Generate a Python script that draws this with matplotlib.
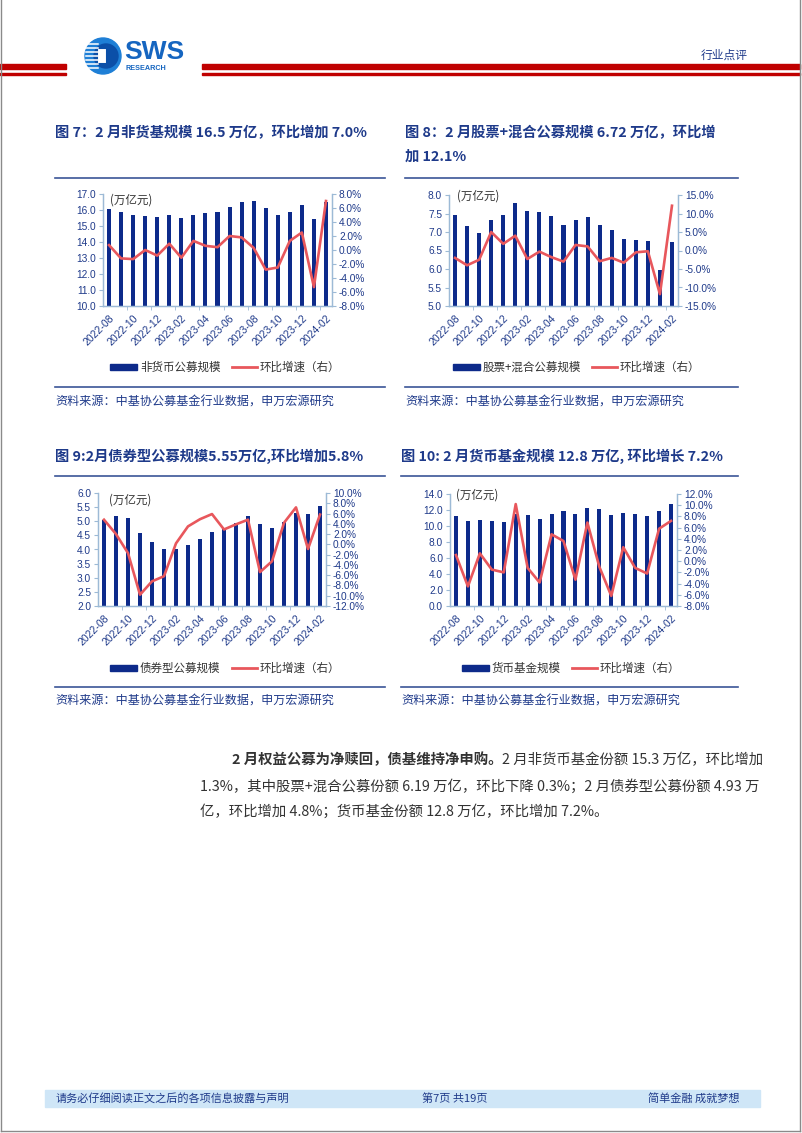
import matplotlib.pyplot as plt
from matplotlib.patches import Rectangle, Circle
from matplotlib.lines import Line2D
import numpy as np

W, H = 802, 1133
NAVY = '#0D2A8A'
RED = '#E8575C'
TXT = '#1F3A8A'
AXC = '#9DBAD6'

plt.rcParams['font.family'] = ['Liberation Sans', 'Noto Sans CJK SC']
CJK = ['Noto Sans CJK SC', 'DejaVu Sans']

months = ['2022-08', '2022-09', '2022-10', '2022-11', '2022-12', '2023-01', '2023-02',
          '2023-03', '2023-04', '2023-05', '2023-06', '2023-07', '2023-08', '2023-09',
          '2023-10', '2023-11', '2023-12', '2024-01', '2024-02']

# 非货币公募规模 (万亿元) and 环比 (%)
nonmoney_size = [16.05, 15.9, 15.7, 15.65, 15.55, 15.7, 15.5, 15.7, 15.8, 15.85,
                 16.2, 16.5, 16.55, 16.1, 15.7, 15.9, 16.3, 15.43, 16.5]
nonmoney_mom = [0.7, -1.2, -1.3, 0.0, -0.8, 0.9, -1.1, 1.3, 0.6, 0.4,
                2.0, 1.8, 0.3, -2.8, -2.5, 1.3, 2.5, -5.3, 7.0]

# 股票+混合公募规模
equity_size = [7.45, 7.15, 6.97, 7.33, 7.47, 7.78, 7.58, 7.55, 7.42, 7.2,
               7.32, 7.4, 7.18, 7.05, 6.8, 6.78, 6.77, 5.98, 6.72]
equity_mom = [-2.0, -4.0, -2.5, 5.0, 1.8, 4.0, -2.3, -0.3, -1.8, -3.0,
              1.5, 1.1, -2.9, -2.0, -3.3, -0.5, -0.2, -11.8, 12.1]

# 债券型公募规模
bond_size = [5.05, 5.18, 5.1, 4.6, 4.28, 4.0, 4.02, 4.16, 4.37, 4.62,
             4.75, 4.95, 5.18, 4.9, 4.75, 4.98, 5.3, 5.25, 5.55]
bond_mom = [4.8, 2.0, -1.7, -9.8, -7.2, -6.2, 0.2, 3.5, 4.9, 5.9,
            2.9, 3.9, 4.8, -5.4, -3.3, 4.2, 7.2, -0.9, 5.8]

# 货币基金规模
money_size = [11.2, 10.65, 10.8, 10.65, 10.45, 11.5, 11.4, 10.9, 11.45, 11.85,
              11.45, 12.25, 12.1, 11.35, 11.65, 11.5, 11.25, 11.9, 12.8]
money_mom = [1.1, -4.5, 1.4, -1.5, -2.0, 10.2, -1.2, -3.8, 4.8, 3.6,
             -3.3, 6.9, -1.0, -6.2, 2.5, -1.2, -2.2, 5.8, 7.2]

fig = plt.figure(figsize=(W / 100, H / 100), dpi=100)
pg = fig.add_axes([0, 0, 1, 1])
pg.set_xlim(0, W)
pg.set_ylim(H, 0)
pg.axis('off')


def chart(rect, sizes, mom, lylim, lstep, lfmt, rylim, rstep):
    x0, y0, x1, y1 = rect
    ax = fig.add_axes([x0 / W, 1 - y1 / H, (x1 - x0) / W, (y1 - y0) / H])
    ax.patch.set_alpha(0)
    idx = np.arange(len(months))
    ax.bar(idx, sizes, width=0.34, color=NAVY, zorder=2)
    ax.set_xlim(-0.5, len(months) - 0.5)
    ax.set_ylim(*lylim)
    lt = np.arange(lylim[0], lylim[1] + lstep / 2, lstep)
    ax.set_yticks(lt)
    ax.set_yticklabels([lfmt.format(v) for v in lt])
    ax.set_xticks(idx[::2])
    ax.set_xticklabels(months[::2], rotation=45, ha='right', rotation_mode='anchor')
    ax.set_xticks(np.arange(1.5, len(months) - 1, 2), minor=True)
    ax.tick_params(axis='x', which='major', length=0, pad=5, labelsize=7.6, labelcolor=TXT)
    ax.tick_params(axis='x', which='minor', length=3, color=AXC)
    ax.tick_params(axis='y', length=3, color=AXC, labelsize=7.3, labelcolor=TXT, pad=2)
    ax2 = ax.twinx()
    ax2.plot(idx, mom, color=RED, lw=1.9, zorder=3)
    ax2.set_ylim(*rylim)
    rt = np.arange(rylim[0], rylim[1] + rstep / 2, rstep)
    ax2.set_yticks(rt)
    ax2.set_yticklabels(['{:.1f}%'.format(v) for v in rt])
    ax2.tick_params(axis='y', length=3, color=AXC, labelsize=7.3, labelcolor=TXT, pad=2)
    for a in (ax, ax2):
        a.spines['top'].set_visible(False)
        for s in ('left', 'right', 'bottom'):
            a.spines[s].set_color(AXC)
            a.spines[s].set_linewidth(0.9)
    return ax


def legend(xb, xl, y, label):
    pg.add_patch(Rectangle((xb, y - 3), 27, 6, color=NAVY))
    pg.text(xb + 30, y, label, fontsize=8.3, color='#333333', va='center', family=CJK)
    pg.add_line(Line2D([xl, xl + 25], [y, y], color=RED, lw=2))
    pg.text(xl + 28, y, '环比增速（右）', fontsize=8.3, color='#333333', va='center', family=CJK)


def frame(x0, x1, ytop, ybot, src_y):
    pg.add_line(Line2D([x0, x1], [ytop, ytop], color='#3B5597', lw=1.2))
    pg.add_line(Line2D([x0, x1], [ybot, ybot], color='#3B5597', lw=1.2))
    pg.text(x0, src_y, '资料来源：中基协公募基金行业数据，申万宏源研究', fontsize=8.7,
            color=TXT, va='center', family=CJK)


# page border
pg.add_line(Line2D([1, 1], [0, 1131], color='#8A8A8A', lw=1))
pg.add_line(Line2D([800, 800], [0, 1131], color='#8A8A8A', lw=1))
pg.add_line(Line2D([1, 800], [1131, 1131], color='#8A8A8A', lw=1))

# header
pg.add_patch(Rectangle((0, 64), 66, 5, color='#C00000'))
pg.add_patch(Rectangle((0, 73), 66, 1.6, color='#C00000'))
pg.add_patch(Rectangle((202, 64), 598, 5, color='#C00000'))
pg.add_patch(Rectangle((202, 73), 598, 1.6, color='#C00000'))
pg.add_patch(Circle((103, 56), 18, color='#1E7FD6'))
pg.add_patch(Circle((106, 56), 12, color='#0B4FA8'))
for yy in range(44, 70, 4):
    pg.add_line(Line2D([86, 98], [yy, yy], color='white', lw=1.1))
pg.add_patch(Rectangle((97, 48), 10, 16, facecolor='white', edgecolor='#0B4FA8', lw=1.5))
pg.text(124, 52, 'SWS', fontsize=19, fontweight='bold', color='#1565C0', va='center',
        family='Liberation Sans')
pg.text(126, 68.5, 'RESEARCH', fontsize=5.2, fontweight='bold', color='#1565C0', va='center',
        family='Liberation Sans')
pg.text(748, 55, '行业点评', fontsize=8.5, color=TXT, va='center', ha='right', family=CJK)

# titles
tkw = dict(fontsize=10.3, fontweight='bold', color='#1E3A8A', va='center', family=CJK)
pg.text(55, 133, '图 7：2 月非货基规模 16.5 万亿，环比增加 7.0%', **tkw)
pg.text(405, 133, '图 8：2 月股票+混合公募规模 6.72 万亿，环比增', **tkw)
pg.text(405, 157, '加 12.1%', **tkw)
pg.text(55, 456, '图 9:2月债券型公募规模5.55万亿,环比增加5.8%', **tkw)
pg.text(401, 456, '图 10: 2 月货币基金规模 12.8 万亿, 环比增长 7.2%', **tkw)

frame(55, 385, 178, 387, 402)
frame(405, 738, 178, 387, 402)
frame(55, 385, 476, 687, 701)
frame(401, 738, 476, 687, 701)

# charts
chart((103, 194, 332, 306), nonmoney_size, nonmoney_mom, (10, 17), 1, '{:.1f}', (-8, 8), 2)
chart((449, 195, 678, 306), equity_size, equity_mom, (5, 8), 0.5, '{:.1f}', (-15, 15), 5)
chart((98, 493, 326, 606), bond_size, bond_mom, (2, 6), 0.5, '{:.1f}', (-12, 10), 2)
chart((450, 494, 677, 606), money_size, money_mom, (0, 14), 2, '{:.1f}', (-8, 12), 2)

ukw = dict(fontsize=8.3, color='#333333', va='center', family=CJK)
pg.text(110, 200, '(万亿元)', **ukw)
pg.text(457, 196, '(万亿元)', **ukw)
pg.text(109, 500, '(万亿元)', **ukw)
pg.text(456, 495, '(万亿元)', **ukw)

legend(110, 232, 367, '非货币公募规模')
legend(453, 592, 367, '股票+混合公募规模')
legend(110, 232, 668, '债券型公募规模')
legend(462, 572, 668, '货币基金规模')

# body paragraph
pkw = dict(fontsize=10.35, color='#333333', va='center', family=CJK)
b = pg.text(232, 760, '2 月权益公募为净赎回，债基维持净申购。', fontweight='bold', **pkw)
fig.canvas.draw()
bb = b.get_window_extent().transformed(pg.transData.inverted())
pg.text(bb.x1, 760, '2 月非货币基金份额 15.3 万亿，环比增加', **pkw)
pg.text(200, 786, '1.3%，其中股票+混合公募份额 6.19 万亿，环比下降 0.3%；2 月债券型公募份额 4.93 万', **pkw)
pg.text(200, 811, '亿，环比增加 4.8%；货币基金份额 12.8 万亿，环比增加 7.2%。', **pkw)

# footer
pg.add_patch(Rectangle((45, 1090), 715, 17, color='#CFE6F7'))
fkw = dict(fontsize=8, color=TXT, va='center', family=CJK)
pg.text(56, 1098.5, '请务必仔细阅读正文之后的各项信息披露与声明', **fkw)
pg.text(455, 1098.5, '第7页 共19页', ha='center', **fkw)
pg.text(740, 1098.5, '简单金融 成就梦想', ha='right', **fkw)

fig.savefig('out.png', dpi=100)
